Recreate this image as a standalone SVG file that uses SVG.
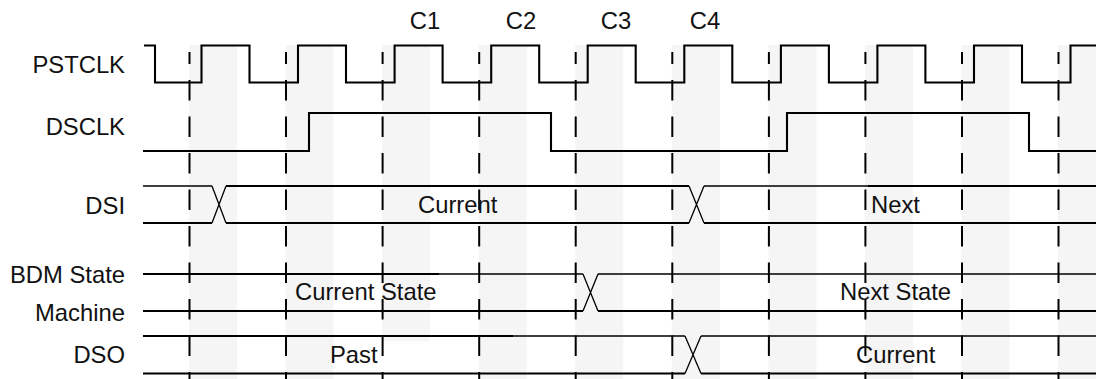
<svg xmlns="http://www.w3.org/2000/svg" width="1096" height="379" viewBox="0 0 1096 379">
  <style>
    .band { fill: #f5f5f5; }
    .grid { fill: none; stroke: #000; stroke-width: 2; stroke-dasharray: 20.5 16; stroke-dashoffset: 8.5; }
    .sig { fill: none; stroke: #000; stroke-width: 2.1; }
    .thin { fill: none; stroke: #000; stroke-width: 1.3; }
    text { font-family: "Liberation Sans", Arial, Helvetica, sans-serif; font-size: 23.8px; fill: #111; }
    .lbl { text-anchor: end; }
    .mid { text-anchor: middle; }
  </style>
  <rect width="1096" height="379" fill="#fff"/>
  <g id="bands">
    <rect class="band" x="189" y="45" width="48" height="334"/>
    <rect class="band" x="285.6" y="45" width="48" height="334"/>
    <rect class="band" x="382.1" y="45" width="48" height="296"/>
    <rect class="band" x="478.7" y="45" width="48" height="334"/>
    <rect class="band" x="575.2" y="45" width="48" height="334"/>
    <rect class="band" x="671.8" y="45" width="48" height="334"/>
    <rect class="band" x="768.4" y="45" width="48" height="334"/>
    <rect class="band" x="864.9" y="45" width="48" height="334"/>
    <rect class="band" x="961.5" y="45" width="48" height="334"/>
    <rect class="band" x="1058" y="45" width="48" height="334"/>
  </g>
  <g id="connectors">
    <path class="grid" d="M189.5 52V379M286 52V379M382.6 52V379M479.2 52V379M575.7 52V379M672.3 52V379M768.9 52V379M865.4 52V379M962 52V379M1058.5 52V379"/>
  </g>
  <g id="cycle-labels">
    <text class="mid" x="425" y="29">C1</text>
    <text class="mid" x="521" y="29">C2</text>
    <text class="mid" x="616" y="29">C3</text>
    <text class="mid" x="705" y="29">C4</text>
  </g>
  <g id="pstclk">
    <text class="lbl" x="125" y="73">PSTCLK</text>
    <path class="sig" d="M144 45.5H155V82.5H201.5V45.5H249.5V82.5H298V45.5H346V82.5H394.6V45.5H442.6V82.5H491.2V45.5H539.2V82.5H587.7V45.5H635.7V82.5H684.3V45.5H732.3V82.5H780.9V45.5H828.9V82.5H877.4V45.5H925.4V82.5H974V45.5H1022V82.5H1070.5V45.5H1096"/>
  </g>
  <g id="dsclk">
    <text class="lbl" x="125" y="135">DSCLK</text>
    <path class="sig" d="M143 151H309V113H551V151H787V113H1029V151H1096"/>
  </g>
  <g id="dsi">
    <text class="lbl" x="125" y="214">DSI</text>
    <path class="sig" d="M226 186H689M868 186H1096M143 223H212M226 223H689M704 223H1096"/>
    <path class="thin" d="M143 186H212M704 186H868M212 186L226 223M212 223L226 186M689 186L704 223M689 223L704 186"/>
    <text x="418" y="213">Current</text>
    <text x="871" y="213">Next</text>
  </g>
  <g id="bdm">
    <text class="lbl" x="125" y="283">BDM State</text>
    <text class="lbl" x="125" y="321">Machine</text>
    <path class="sig" d="M143 274H439M143 311H583M598 311H1096"/>
    <path class="thin" d="M439 274H583M598 274H1096M583 274L598 311M583 311L598 274"/>
    <text x="295" y="300">Current State</text>
    <text x="840" y="300">Next State</text>
  </g>
  <g id="dso">
    <text class="lbl" x="125" y="363">DSO</text>
    <path class="sig" d="M143 336H513M143 373.5H685M701 373.5H1096"/>
    <path class="thin" d="M513 336H685M701 336H1096M685 336L701 373.5M685 373.5L701 336"/>
    <text x="330" y="363">Past</text>
    <text x="856" y="363">Current</text>
  </g>
</svg>
